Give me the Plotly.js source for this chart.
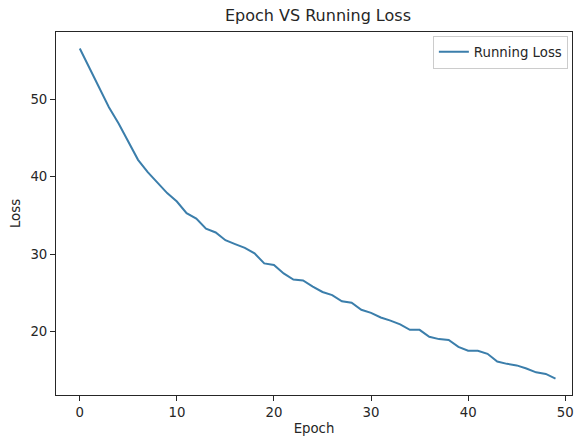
<!DOCTYPE html>
<html>
<head>
<meta charset="utf-8">
<script src="https://cdn.plot.ly/plotly-3.0.1.min.js"></script>
<style>html,body{margin:0;padding:0;background:#fff;}#chart{width:575px;height:440px;}</style>
</head>
<body>
<div id="chart"></div>
<script>
const epochs = Array.from({length: 50}, (_, i) => i);
const runningLoss = [
  56.6, 54.1, 51.4, 49.0, 46.9, 44.6, 42.2, 40.6, 39.2, 37.9,
  36.8, 35.3, 34.6, 33.3, 32.8, 31.8, 31.3, 30.8, 30.1, 28.8,
  28.6, 27.5, 26.7, 26.6, 25.8, 25.1, 24.7, 23.9, 23.7, 22.8,
  22.4, 21.8, 21.4, 20.9, 20.2, 20.2, 19.3, 19.0, 18.9, 18.0,
  17.5, 17.5, 17.1, 16.1, 15.8, 15.6, 15.2, 14.7, 14.5, 13.9
];
const xTicks = [0, 10, 20, 30, 40, 50];
const yTicks = [20, 30, 40, 50];

const font = {family: 'DejaVu Sans, sans-serif', size: 13.3, color: '#262626'};
const trace = {
  x: epochs, y: runningLoss, type: 'scatter', mode: 'lines',
  name: 'Running Loss',
  line: {color: '#3b7eab', width: 2}
};
const axisCommon = {
  showline: true, mirror: true, linecolor: '#262626', linewidth: 1,
  ticks: 'outside', ticklen: 5, tickwidth: 1, tickcolor: '#262626',
  showgrid: false, zeroline: false, tickfont: font
};
const layout = {
  width: 575, height: 440,
  margin: {l: 56, r: 3, t: 32, b: 45},
  paper_bgcolor: '#fff', plot_bgcolor: '#fff',
  font: font,
  title: {text: 'Epoch VS Running Loss', font: {family: 'DejaVu Sans, sans-serif', size: 16, color: '#262626'},
          x: 0.553, xref: 'container', xanchor: 'center', y: 0.966, yref: 'container', yanchor: 'middle'},
  xaxis: Object.assign({}, axisCommon, {range: [-2.45, 50.7], tickvals: xTicks,
          title: {text: 'Epoch', font: font, standoff: 4}}),
  yaxis: Object.assign({}, axisCommon, {range: [11.77, 58.74], tickvals: yTicks,
          title: {text: 'Loss', font: font, standoff: 6}}),
  showlegend: true,
  legend: {x: 0.992, xanchor: 'right', y: 0.99, yanchor: 'top',
           bordercolor: '#cccccc', borderwidth: 1, bgcolor: '#fff',
           font: font, tracegroupgap: 0}
};
Plotly.newPlot('chart', [trace], layout, {displayModeBar: false, staticPlot: true});
</script>
</body>
</html>
